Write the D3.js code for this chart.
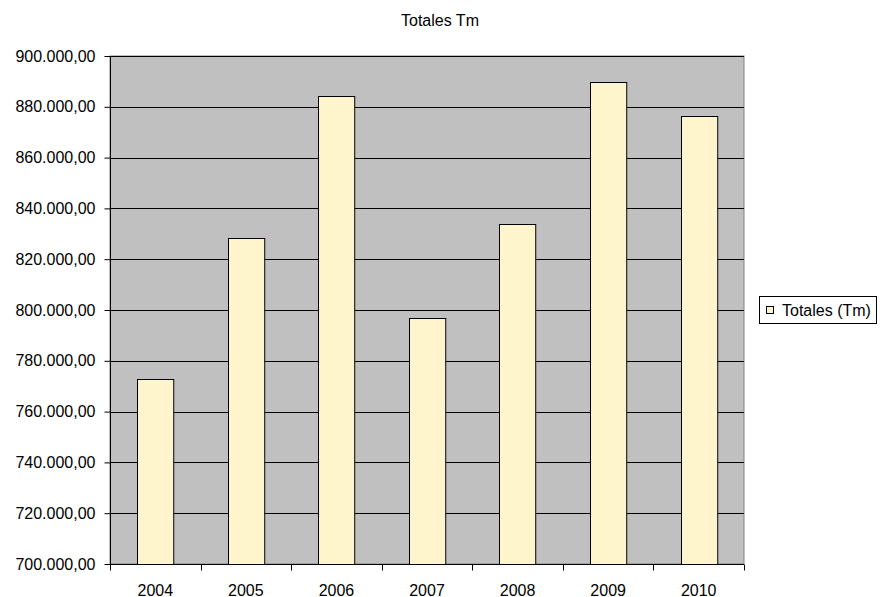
<!DOCTYPE html>
<html><head><meta charset="utf-8">
<script src="https://cdn.jsdelivr.net/npm/d3@7"></script>
<style>body{margin:0;background:#fff;}svg{display:block;font-family:Arial,"Liberation Sans",sans-serif;}</style>
</head><body>
<svg id="c" width="880" height="597"></svg>
<script>
const categories = ["2004","2005","2006","2007","2008","2009","2010"];
const values = [772700, 828300, 884400, 796900, 833900, 889800, 876300];
const yTicks = [700000,720000,740000,760000,780000,800000,820000,840000,860000,880000,900000];
const title = "Totales Tm";
const seriesName = "Totales (Tm)";

const svg = d3.select("#c");
const L = 110, R = 744, T = 56, B = 564;
const x = d3.scaleBand().domain(categories).range([L, R]).paddingInner(0.6).paddingOuter(0.3);
const xb = d3.scaleBand().domain(categories).range([L, R]);
const y = d3.scaleLinear().domain([700000, 900000]).range([B, T]);
const fmt = v => d3.format(",.2f")(v).replace(/,/g, "X").replace(/\./g, ",").replace(/X/g, ".");

svg.append("rect").attr("x", L).attr("y", T).attr("width", R - L).attr("height", B - T)
  .attr("fill", "#c0c0c0").attr("stroke", "#808080").attr("stroke-width", 1);

svg.append("g").selectAll("line").data(yTicks).join("line")
  .attr("x1", L).attr("x2", R).attr("y1", d => Math.round(y(d)) + 0.5).attr("y2", d => Math.round(y(d)) + 0.5)
  .attr("stroke", "#000").attr("stroke-width", 1);

svg.append("g").selectAll("rect").data(values).join("rect")
  .attr("x", (d, i) => Math.round(x(categories[i])) + 0.5)
  .attr("y", d => Math.round(y(d)) + 0.5)
  .attr("width", x.bandwidth())
  .attr("height", d => B - Math.round(y(d)))
  .attr("fill", "#fff5cc").attr("stroke", "#000").attr("stroke-width", 1);

const ya = svg.append("g").attr("transform", `translate(${L + 0.5},0)`)
  .call(d3.axisLeft(y).tickValues(yTicks).tickFormat(fmt).tickSize(6).tickPadding(9));
ya.selectAll("text").attr("font-size", 16).attr("fill", "#000").attr("font-family", "Arial, 'Liberation Sans', sans-serif");
ya.selectAll("line,path").attr("stroke", "#000");
ya.select(".domain").attr("d", `M0,${T}V${B}`);

const xa = svg.append("g").attr("transform", `translate(0,${B + 0.5})`);
xa.append("line").attr("x1", L).attr("x2", R).attr("stroke", "#000");
xa.selectAll(".tk").data(categories.concat(["end"])).join("line")
  .attr("x1", (d, i) => Math.round(L + i * xb.step()) + 0.5).attr("x2", (d, i) => Math.round(L + i * xb.step()) + 0.5)
  .attr("y1", 0).attr("y2", 6).attr("stroke", "#000");
xa.selectAll("text").data(categories).join("text")
  .attr("x", d => xb(d) + xb.bandwidth() / 2).attr("y", 31)
  .attr("text-anchor", "middle").attr("font-size", 16).text(d => d);

svg.append("text").attr("x", 440).attr("y", 26).attr("text-anchor", "middle")
  .attr("font-size", 16).text(title);

const lg = svg.append("g");
lg.append("rect").attr("x", 759.5).attr("y", 296.5).attr("width", 117).attr("height", 27)
  .attr("fill", "#fff").attr("stroke", "#000");
lg.append("rect").attr("x", 766.5).attr("y", 306.5).attr("width", 7).attr("height", 7)
  .attr("fill", "#fff5cc").attr("stroke", "#000");
lg.append("text").attr("x", 782).attr("y", 316).attr("font-size", 16).text(seriesName);
</script>
</body></html>
